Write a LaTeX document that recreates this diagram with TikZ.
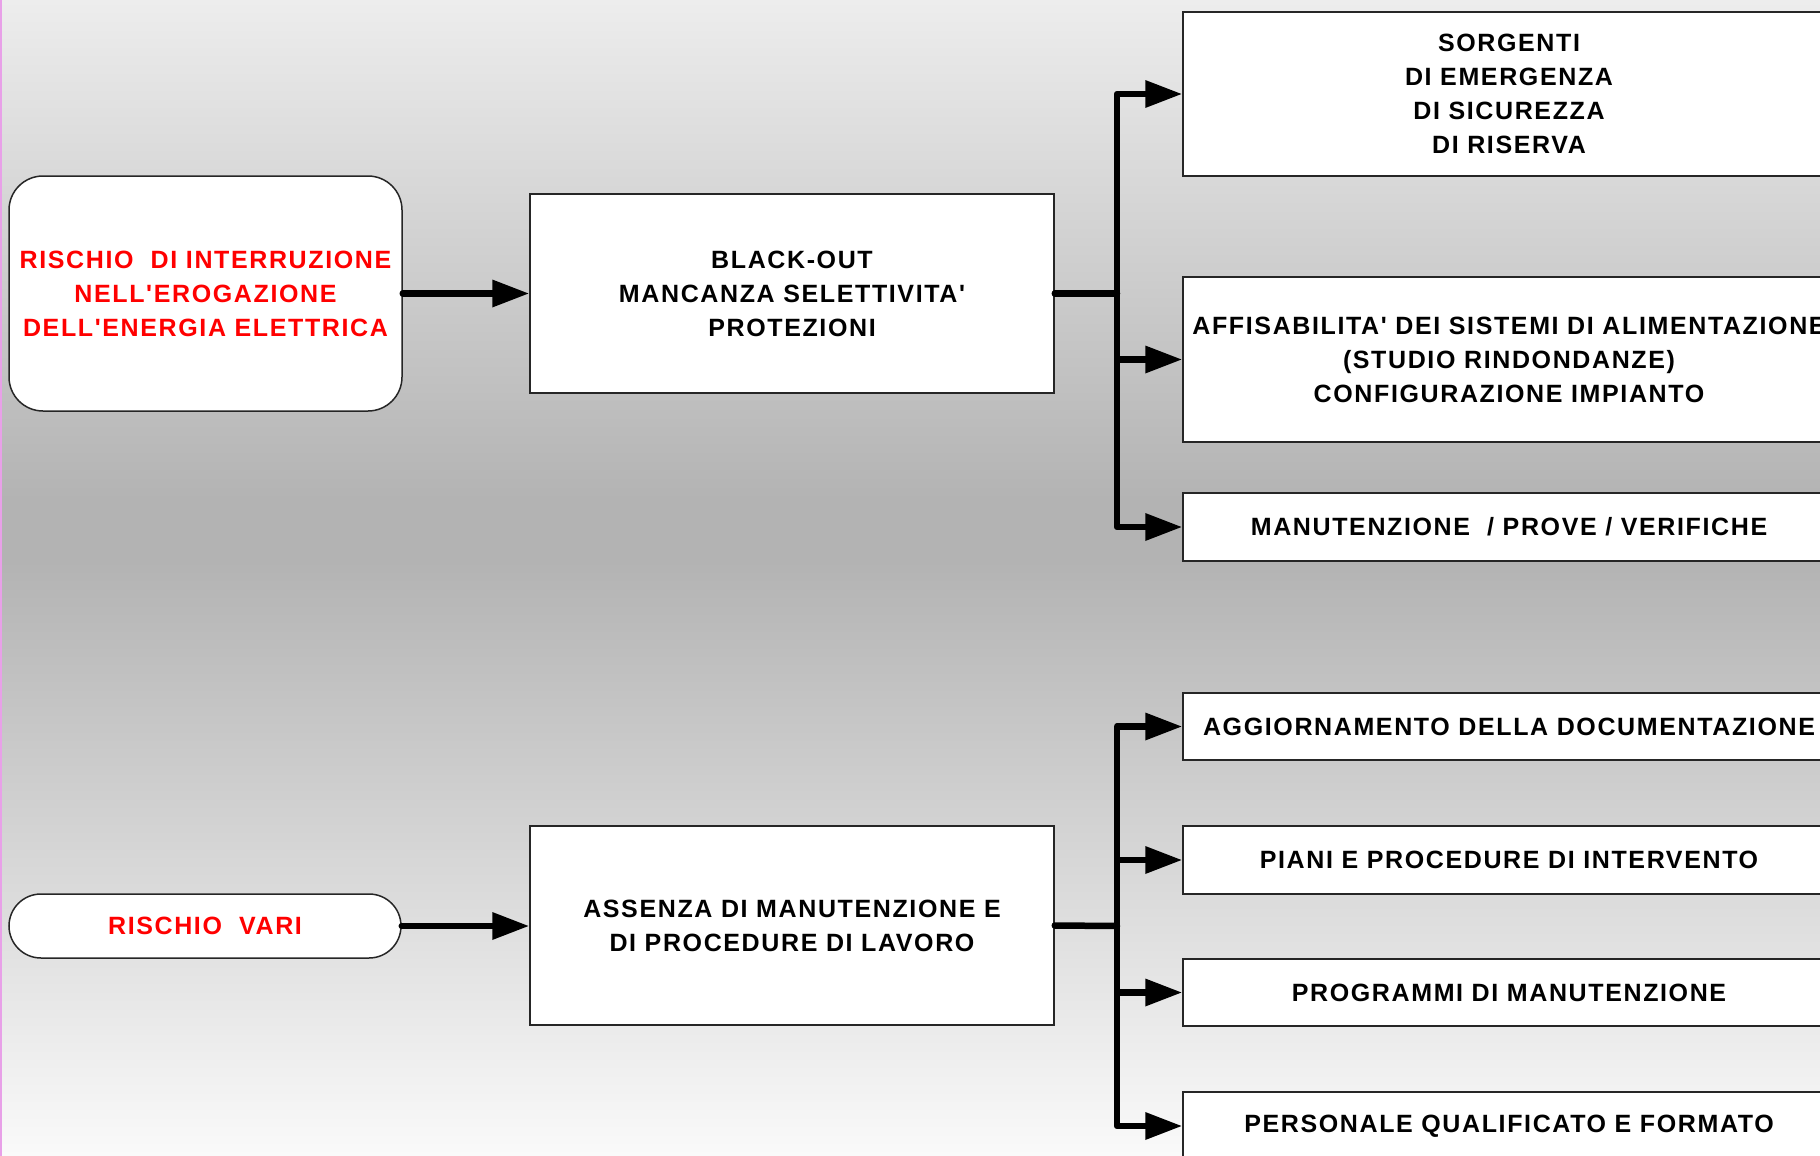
\documentclass[tikz,border=0pt]{standalone}
\usepackage{fontspec}
\setmainfont{Liberation Sans}[Ligatures=TeXOff,LetterSpace=6.5]
\usetikzlibrary{arrows.meta}
\definecolor{bgtop}{HTML}{EDEDED}
\definecolor{bgmid}{HTML}{B3B3B3}
\definecolor{bgbot}{HTML}{FAFAFA}
\definecolor{edgepink}{HTML}{E8A0E8}

\begin{document}
\begin{tikzpicture}[x=0.5pt,y=-0.5pt,font=\fontsize{12.5}{17}\selectfont\bfseries,
 risk/.style={draw=black!85,fill=white,line width=0.75pt,align=center,text=red,inner sep=0pt},
 cause/.style={draw=black!85,fill=white,line width=0.75pt,align=center,minimum width=262pt,minimum height=99.5pt,inner sep=0pt},
 measure/.style={draw=black!85,fill=white,line width=0.75pt,align=center,minimum width=326pt,inner sep=0pt},
 bus/.style={line width=3.25pt,line cap=round,line join=round},
 line/.style={bus,-{Triangle[length=18.5pt,width=13pt]}}]
\useasboundingbox (0,0) rectangle (1820,1156);
\clip (0,0) rectangle (1820,1156);
% background
\shade[top color=bgtop,bottom color=bgmid] (0,0) rectangle (1820,500);
\fill[bgmid] (0,499) rectangle (1820,561);
\shade[top color=bgmid,bottom color=bgbot] (0,560) rectangle (1820,1156);
\fill[edgepink] (0,0) rectangle (2,1156);
% first risk
\node[risk,minimum width=196.5pt,minimum height=117.5pt,rounded corners=17pt] (interr) at (205.5,293.5) {RISCHIO\ \ DI INTERRUZIONE\\NELL'EROGAZIONE\\DELL'ENERGIA ELETTRICA};
\node[cause] (blackout) at (792,293.5) {BLACK-OUT\\MANCANZA SELETTIVITA'\\PROTEZIONI};
\node[measure,minimum height=82pt] (sorg) at (1509,94) {SORGENTI\\DI EMERGENZA\\DI SICUREZZA\\DI RISERVA};
\node[measure,minimum height=82.5pt] (affid) at (1509,359.5) {AFFISABILITA' DEI SISTEMI DI ALIMENTAZIONE\\(STUDIO RINDONDANZE)\\CONFIGURAZIONE IMPIANTO};
\node[measure,minimum height=34pt] (manut) at (1509,527) {MANUTENZIONE\ \ / PROVE / VERIFICHE};
% second risk
\node[risk,minimum width=196pt,minimum height=32pt,rounded corners=16pt] (vari) at (205,926) {RISCHIO\ \ VARI};
\node[cause] (assenza) at (792,925.5) {ASSENZA DI MANUTENZIONE E\\DI PROCEDURE DI LAVORO};
\node[measure,minimum height=33.5pt] (docum) at (1509,726.5) {AGGIORNAMENTO DELLA DOCUMENTAZIONE};
\node[measure,minimum height=34pt] (piani) at (1509,860) {PIANI E PROCEDURE DI INTERVENTO};
\node[measure,minimum height=33.5pt] (progr) at (1509,992.5) {PROGRAMMI DI MANUTENZIONE};
\node[measure,minimum height=34pt] (perso) at (1509,1126) {PERSONALE QUALIFICATO E FORMATO};
% connectors
\coordinate (j1) at (1117,293.5);
\coordinate (j2) at (1117,926);
\draw[line] (interr.east) -- (blackout.west);
\draw[bus] (blackout.east) -- (j1);
\foreach \m in {sorg,affid,manut}
  \draw[line] (j1) |- (\m.west);
\draw[line] (vari.east) -- (assenza.west |- vari.east);
\draw[bus] (assenza.east) -- (j2);
\foreach \m in {docum,piani,progr,perso}
  \draw[line] (j2) |- (\m.west);
\end{tikzpicture}
\end{document}
